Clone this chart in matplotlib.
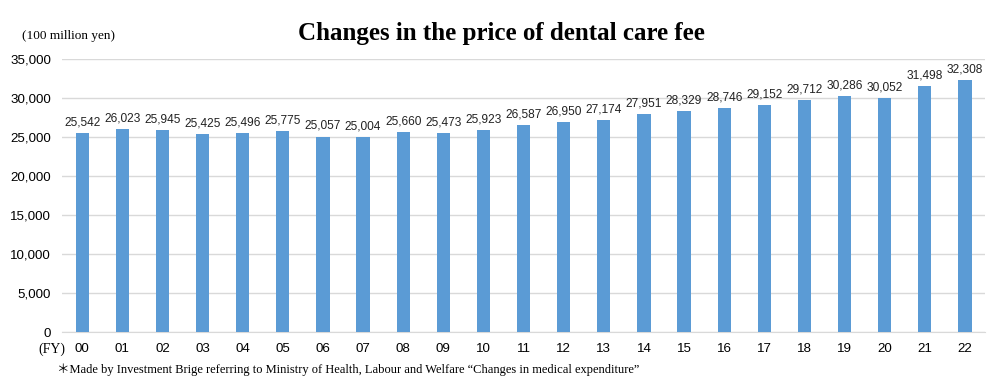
import matplotlib.pyplot as plt
from matplotlib.ticker import FuncFormatter

years = ["00", "01", "02", "03", "04", "05", "06", "07", "08", "09", "10", "11",
         "12", "13", "14", "15", "16", "17", "18", "19", "20", "21", "22"]
fees = [25542, 26023, 25945, 25425, 25496, 25775, 25057, 25004, 25660, 25473,
        25923, 26587, 26950, 27174, 27951, 28329, 28746, 29152, 29712, 30286,
        30052, 31498, 32308]

serif = "Liberation Serif"
sans = "Liberation Sans"

fig = plt.figure(figsize=(10.03, 3.79), dpi=100)
ax = fig.add_axes([0.062, 0.124, 0.920, 0.720])

x = range(len(years))
ax.bar(x, fees, width=0.33, color="#5B9BD5", zorder=3)
for i, v in zip(x, fees):
    ax.text(i, v + 600, f"{v:,}", ha="center", va="bottom",
            fontsize=8.6, family=sans, color="#222222")

ax.set_xlim(-0.5, len(years) - 0.5)
ax.set_ylim(0, 35000)
ax.set_yticks(range(0, 35001, 5000))
ax.yaxis.set_major_formatter(FuncFormatter(lambda v, p: f"{int(v):,}"))
ax.set_xticks(list(x))
ax.set_xticklabels(years)
ax.grid(axis="y", color="#D9D9D9", linewidth=1, zorder=0)
for s in ["top", "right", "left"]:
    ax.spines[s].set_visible(False)
ax.spines["bottom"].set_color("#D9D9D9")
ax.tick_params(length=0, labelsize=9.6, pad=8)
for lab in ax.get_xticklabels() + ax.get_yticklabels():
    lab.set_family(sans)

fig.text(0.5, 0.912, "Changes in the price of dental care fee", ha="center",
         va="center", fontsize=18, fontweight="bold", family=serif)
fig.text(0.022, 0.905, "(100 million yen)", ha="left", va="center",
         fontsize=9.5, family=serif)
fig.text(0.038, 0.078, "(FY)", ha="left", va="center", fontsize=10, family=serif)
fig.text(0.057, 0.025,
         "\uff0aMade by Investment Brige referring to Ministry of Health, Labour and Welfare "
         "\u201cChanges in medical expenditure\u201d",
         ha="left", va="center", fontsize=9, family=["Liberation Serif", "Noto Sans CJK JP"])

fig.savefig("out.png", dpi=100)
